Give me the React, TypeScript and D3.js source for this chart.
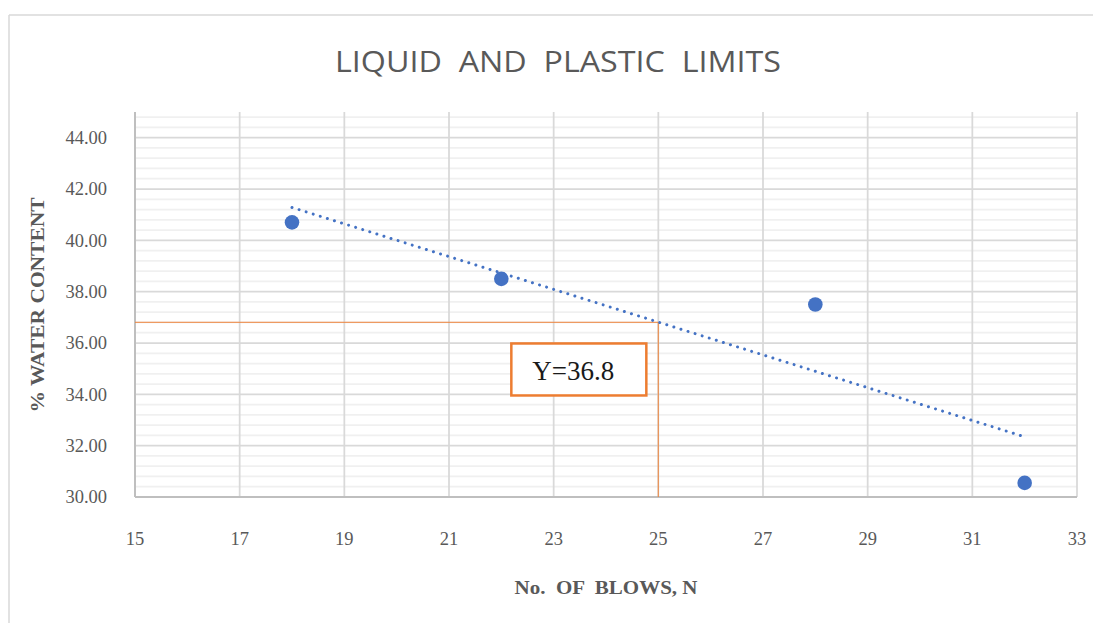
import React from "react";
import * as d3 from "d3";

// Atterberg test readings: number of blows vs. water content (%)
const blows: number[] = [18, 22, 28, 32];
const waterContent: number[] = [40.7, 38.5, 37.5, 30.55];

// Axis ticks
const xTicks: number[] = [15, 17, 19, 21, 23, 25, 27, 29, 31, 33];
const yTicks: number[] = [30, 32, 34, 36, 38, 40, 42, 44];

// Liquid limit is read at the standard 25 blows
const liquidLimitBlows = 25;
const liquidLimitLabel = "Y=36.8";
const liquidLimitValue = 36.8;

const W = 1093;
const H = 623;
const plot = { left: 135, right: 1077, top: 112, bottom: 497 };

const GRID_MAJOR = "#d9d9d9";
const GRID_MINOR = "#f0f0f0";
const AXIS = "#bfbfbf";
const TEXT = "#595959";
const BLUE = "#4472c4";
const ORANGE = "#ed7d31";

export default function App() {
  const x = d3.scaleLinear().domain([15, 33]).range([plot.left, plot.right]);
  const y = d3.scaleLinear().domain([30, 45]).range([plot.bottom, plot.top]);

  // Least-squares linear trendline through the readings
  const mx = d3.mean(blows)!;
  const my = d3.mean(waterContent)!;
  const sxy = d3.sum(blows, (b, i) => (b - mx) * (waterContent[i] - my));
  const sxx = d3.sum(blows, (b) => (b - mx) ** 2);
  const slope = sxy / sxx;
  const fit = (b: number) => my + slope * (b - mx);
  const [bMin, bMax] = d3.extent(blows) as [number, number];
  const trend = d3
    .line<number>()
    .x((b) => x(b))
    .y((b) => y(fit(b)))([bMin, bMax]);

  // Minor gridlines every 0.4 %
  const minor = d3.range(30, 45.0001, 0.4).filter(
    (v) => Math.abs(v / 2 - Math.round(v / 2)) > 1e-6
  );

  const llx = x(liquidLimitBlows);
  const lly = y(liquidLimitValue);
  const box = { w: 135, h: 52 };
  const boxX = llx - 12 - box.w;
  const boxY = lly + 21;

  const serif = "'Liberation Serif', 'Times New Roman', serif";

  return (
    <svg
      width={W}
      height={H}
      style={{ position: "absolute", left: 0, top: 0, background: "#fff" }}
    >
      {/* chart area frame */}
      <line x1={9} y1={15} x2={W} y2={15} stroke={GRID_MAJOR} strokeWidth={1.5} />
      <line x1={9} y1={15} x2={9} y2={H} stroke={GRID_MAJOR} strokeWidth={1.5} />

      <text
        x={558}
        y={72}
        textAnchor="middle"
        fontFamily="'Open Sans', sans-serif"
        fontSize={30}
        fill={TEXT}
        textLength={446}
        lengthAdjust="spacingAndGlyphs"
        style={{ whiteSpace: "pre" }}
      >
        {"LIQUID  AND  PLASTIC  LIMITS"}
      </text>

      {/* gridlines */}
      {minor.map((v) => (
        <line
          key={"mn" + v}
          x1={plot.left}
          x2={plot.right}
          y1={y(v)}
          y2={y(v)}
          stroke={GRID_MINOR}
          strokeWidth={1.75}
        />
      ))}
      {yTicks.slice(1).map((v) => (
        <line
          key={"mj" + v}
          x1={plot.left}
          x2={plot.right}
          y1={y(v)}
          y2={y(v)}
          stroke={GRID_MAJOR}
          strokeWidth={1.75}
        />
      ))}
      {xTicks.slice(1).map((v) => (
        <line
          key={"vx" + v}
          x1={x(v)}
          x2={x(v)}
          y1={plot.top}
          y2={plot.bottom}
          stroke={GRID_MAJOR}
          strokeWidth={1.75}
        />
      ))}
      {/* axes */}
      <line x1={plot.left} x2={plot.left} y1={plot.top} y2={plot.bottom} stroke={AXIS} strokeWidth={2} />
      <line x1={plot.left} x2={plot.right} y1={plot.bottom} y2={plot.bottom} stroke={AXIS} strokeWidth={2} />

      {/* tick labels */}
      {yTicks.map((v) => (
        <text
          key={"yt" + v}
          x={107}
          y={y(v)}
          dy="0.35em"
          textAnchor="end"
          fontFamily={serif}
          fontSize={18.5}
          fill={TEXT}
        >
          {v.toFixed(2)}
        </text>
      ))}
      {xTicks.map((v) => (
        <text
          key={"xt" + v}
          x={x(v)}
          y={545}
          textAnchor="middle"
          fontFamily={serif}
          fontSize={18.5}
          fill={TEXT}
        >
          {v}
        </text>
      ))}

      {/* axis titles */}
      <text
        x={606}
        y={594}
        textAnchor="middle"
        fontFamily={serif}
        fontWeight="bold"
        fontSize={19}
        fill={TEXT}
        textLength={183}
        lengthAdjust="spacingAndGlyphs"
        style={{ whiteSpace: "pre" }}
      >
        {"No.  OF  BLOWS, N"}
      </text>
      <text
        transform={`translate(44,305) rotate(-90)`}
        textAnchor="middle"
        fontFamily={serif}
        fontWeight="bold"
        fontSize={19}
        fill={TEXT}
        textLength={215}
        lengthAdjust="spacingAndGlyphs"
      >
        % WATER CONTENT
      </text>

      {/* liquid limit construction lines */}
      <line x1={plot.left} x2={llx} y1={lly} y2={lly} stroke={ORANGE} strokeOpacity={0.75} strokeWidth={1.3} />
      <line x1={llx} x2={llx} y1={lly} y2={plot.bottom} stroke={ORANGE} strokeOpacity={0.75} strokeWidth={1.3} />

      {/* trendline */}
      <path
        d={trend ?? ""}
        fill="none"
        stroke={BLUE}
        strokeWidth={3}
        strokeLinecap="round"
        strokeDasharray="0.01 7.4"
      />

      {/* readings */}
      {blows.map((b, i) => (
        <circle key={"p" + i} cx={x(b)} cy={y(waterContent[i])} r={7.3} fill={BLUE} />
      ))}

      {/* liquid limit callout */}
      <rect
        x={boxX}
        y={boxY}
        width={box.w}
        height={box.h}
        fill="#fff"
        stroke={ORANGE}
        strokeWidth={2.5}
      />
      <text
        x={boxX + 21}
        y={boxY + 37}
        fontFamily={serif}
        fontSize={27}
        fill="#1a1a1a"
      >
        {liquidLimitLabel}
      </text>
    </svg>
  );
}
